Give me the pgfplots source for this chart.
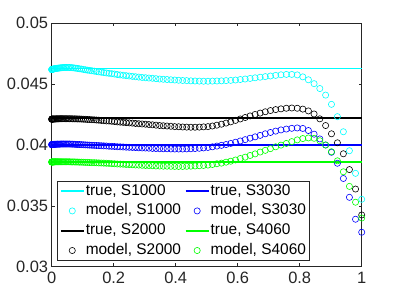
\documentclass[border=0pt]{standalone}
\usepackage{fontspec}
\setmainfont{Liberation Sans}
\usepackage{pgfplots}
\usepackage{pgfplotstable}
\pgfplotsset{compat=1.18}
\definecolor{axgray}{RGB}{38,38,38}
\definecolor{mcyan}{RGB}{0,255,255}
\definecolor{mblue}{RGB}{0,0,255}
\definecolor{mgreen}{RGB}{0,255,0}
\pgfplotstableread{
x c k b g
0 0.04620 0.04212 0.04003 0.03860
0.0001 0.04620 0.04212 0.04003 0.03860
0.0004 0.04620 0.04212 0.04003 0.03860
0.0009 0.04621 0.04212 0.04003 0.03860
0.0016 0.04621 0.04213 0.04004 0.03860
0.0025 0.04622 0.04213 0.04004 0.03861
0.0036 0.04623 0.04213 0.04004 0.03861
0.0049 0.04624 0.04213 0.04005 0.03861
0.0064 0.04625 0.04214 0.04005 0.03861
0.0081 0.04626 0.04214 0.04005 0.03861
0.01 0.04627 0.04214 0.04006 0.03862
0.0121 0.04628 0.04214 0.04006 0.03862
0.0144 0.04629 0.04215 0.04006 0.03862
0.0169 0.04630 0.04215 0.04007 0.03862
0.0196 0.04631 0.04215 0.04007 0.03862
0.0225 0.04632 0.04215 0.04007 0.03862
0.0256 0.04633 0.04216 0.04007 0.03862
0.0289 0.04634 0.04216 0.04008 0.03862
0.0324 0.04635 0.04216 0.04008 0.03862
0.0361 0.04636 0.04216 0.04008 0.03862
0.04 0.04637 0.04216 0.04008 0.03862
0.0441 0.04637 0.04216 0.04008 0.03862
0.0484 0.04637 0.04216 0.04008 0.03862
0.0529 0.04637 0.04216 0.04008 0.03862
0.0576 0.04637 0.04216 0.04008 0.03862
0.0625 0.04636 0.04216 0.04007 0.03861
0.0676 0.04635 0.04215 0.04007 0.03861
0.0729 0.04633 0.04215 0.04006 0.03861
0.0784 0.04631 0.04215 0.04005 0.03860
0.0841 0.04629 0.04214 0.04004 0.03860
0.09 0.04626 0.04214 0.04004 0.03859
0.0961 0.04624 0.04213 0.04003 0.03859
0.1024 0.04621 0.04212 0.04002 0.03858
0.1089 0.04618 0.04211 0.04001 0.03857
0.1156 0.04615 0.04210 0.04000 0.03857
0.1225 0.04613 0.04209 0.03999 0.03856
0.1296 0.04610 0.04208 0.03998 0.03855
0.1369 0.04607 0.04207 0.03997 0.03855
0.1444 0.04604 0.04205 0.03996 0.03854
0.1521 0.04601 0.04204 0.03995 0.03853
0.16 0.04598 0.04202 0.03994 0.03852
0.1681 0.04595 0.04200 0.03993 0.03851
0.1764 0.04592 0.04198 0.03992 0.03850
0.1849 0.04589 0.04197 0.03990 0.03849
0.1936 0.04586 0.04195 0.03989 0.03847
0.2025 0.04583 0.04193 0.03988 0.03846
0.2116 0.04579 0.04190 0.03986 0.03844
0.2209 0.04576 0.04188 0.03985 0.03843
0.2304 0.04573 0.04186 0.03984 0.03842
0.2401 0.04570 0.04184 0.03982 0.03840
0.25 0.04567 0.04182 0.03981 0.03839
0.2601 0.04564 0.04180 0.03980 0.03838
0.2704 0.04561 0.04177 0.03979 0.03836
0.2809 0.04558 0.04175 0.03977 0.03835
0.2916 0.04555 0.04173 0.03976 0.03833
0.3025 0.04553 0.04171 0.03975 0.03832
0.3136 0.04550 0.04168 0.03974 0.03831
0.3249 0.04548 0.04166 0.03972 0.03830
0.3364 0.04545 0.04163 0.03971 0.03828
0.3481 0.04542 0.04160 0.03970 0.03827
0.36 0.04540 0.04158 0.03969 0.03826
0.3721 0.04538 0.04156 0.03969 0.03826
0.3844 0.04536 0.04154 0.03968 0.03825
0.3969 0.04534 0.04151 0.03967 0.03824
0.4096 0.04532 0.04150 0.03967 0.03824
0.4225 0.04530 0.04148 0.03967 0.03824
0.4356 0.04529 0.04147 0.03968 0.03825
0.4489 0.04527 0.04146 0.03969 0.03826
0.4624 0.04526 0.04146 0.03971 0.03828
0.4761 0.04525 0.04147 0.03973 0.03830
0.49 0.04524 0.04149 0.03976 0.03832
0.5041 0.04524 0.04151 0.03980 0.03835
0.5184 0.04525 0.04156 0.03985 0.03840
0.5329 0.04526 0.04163 0.03991 0.03846
0.5476 0.04527 0.04171 0.03997 0.03851
0.5625 0.04529 0.04180 0.04004 0.03859
0.5776 0.04531 0.04190 0.04013 0.03867
0.5929 0.04534 0.04202 0.04023 0.03877
0.6084 0.04538 0.04214 0.04033 0.03889
0.6241 0.04542 0.04226 0.04044 0.03900
0.64 0.04547 0.04239 0.04056 0.03914
0.6561 0.04552 0.04251 0.04067 0.03927
0.6724 0.04557 0.04262 0.04079 0.03942
0.6889 0.04562 0.04273 0.04092 0.03956
0.7056 0.04567 0.04283 0.04103 0.03970
0.7225 0.04572 0.04291 0.04114 0.03985
0.7396 0.04577 0.04297 0.04124 0.03999
0.7569 0.04580 0.04302 0.04131 0.04013
0.7744 0.04580 0.04304 0.04137 0.04028
0.7921 0.04576 0.04302 0.04140 0.04042
0.81 0.04560 0.04295 0.04136 0.04053
0.8281 0.04536 0.04280 0.04119 0.04058
0.8464 0.04504 0.04255 0.04089 0.04055
0.8649 0.04464 0.04215 0.04050 0.04035
0.8836 0.04410 0.04160 0.04000 0.04000
0.9025 0.04334 0.04092 0.03940 0.03945
0.9216 0.04233 0.04018 0.03850 0.03870
0.9409 0.04109 0.03928 0.03725 0.03780
0.9604 0.03953 0.03798 0.03570 0.03660
0.9801 0.03767 0.03638 0.03390 0.03530
1 0.03554 0.03425 0.03283 0.03400
}\model
\begin{document}
\begin{tikzpicture}
\path[use as bounding box] (-51.7bp,-33.3bp) rectangle (348.3bp,266.7bp);
\begin{axis}[
  at={(0,0)}, anchor=south west,
  scale only axis, width=310bp, height=243.4bp,
  xmin=0, xmax=1, ymin=0.03, ymax=0.05,
  clip=false,
  scaled y ticks=false, scaled x ticks=false,
  axis line style={axgray, line width=0.6bp},
  every tick/.style={axgray, line width=0.6bp},
  major tick length=3.2bp,
  tick align=inside,
  xtick={0,0.2,0.4,0.6,0.8,1},
  xticklabels={0,0.2,0.4,0.6,0.8,1},
  ytick={0.03,0.035,0.04,0.045,0.05},
  yticklabels={0.03,0.035,0.04,0.045,0.05},
  /pgf/number format/assume math mode=true,
  tick label style={font=\fontsize{16.5}{19}\selectfont, text=axgray},
  yticklabel style={inner sep=0pt, xshift=-3.4bp},
  xticklabel style={inner sep=0pt, yshift=-5bp},
  legend columns=2,
  legend cell align=left,
  legend image code/.code={\draw[mark repeat=2,mark phase=2,#1] plot coordinates {(0bp,0bp) (11.5bp,0bp) (23bp,0bp)};},
  legend style={at={(0.018,0.025)}, anchor=south west,
    draw=axgray, fill=white,
    inner xsep=2.5bp, inner ysep=0bp,
    font=\fontsize{15.5}{18}\selectfont,
    nodes={inner xsep=1.2bp, inner ysep=2.4bp, text height=11.5bp, text depth=3.5bp},
    /tikz/every even column/.append style={column sep=2.6bp}},
]
\addplot[mcyan, line width=1.6bp] coordinates {(0,0.0463) (1,0.0463)};
\addlegendentry{true, S1000}
\addplot[mblue, line width=1.6bp] coordinates {(0,0.0400) (1,0.0400)};
\addlegendentry{true, S3030}
\addplot[mcyan, only marks, mark=o, mark size=3.1bp, mark options={line width=0.6bp}] table[x=x,y=c] {\model};
\addlegendentry{model, S1000}
\addplot[mblue, only marks, mark=o, mark size=3.1bp, mark options={line width=0.6bp}] table[x=x,y=b] {\model};
\addlegendentry{model, S3030}
\addplot[black, line width=1.6bp] coordinates {(0,0.0422) (1,0.0422)};
\addlegendentry{true, S2000}
\addplot[mgreen, line width=1.6bp] coordinates {(0,0.0386) (1,0.0386)};
\addlegendentry{true, S4060}
\addplot[black, only marks, mark=o, mark size=3.1bp, mark options={line width=0.6bp}] table[x=x,y=k] {\model};
\addlegendentry{model, S2000}
\addplot[mgreen, only marks, mark=o, mark size=3.1bp, mark options={line width=0.6bp}] table[x=x,y=g] {\model};
\addlegendentry{model, S4060}
\end{axis}
\end{tikzpicture}
\end{document}
